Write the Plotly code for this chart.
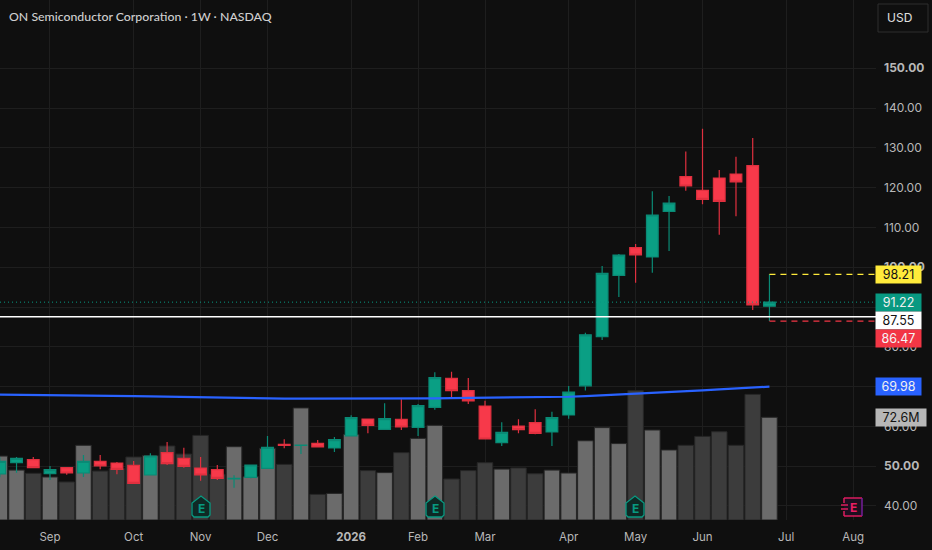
import plotly.graph_objects as go

dates = ['2025-08-11', '2025-08-18', '2025-08-25', '2025-09-01', '2025-09-08', '2025-09-15', '2025-09-22', '2025-09-29',
         '2025-10-06', '2025-10-13', '2025-10-20', '2025-10-27', '2025-11-03', '2025-11-10', '2025-11-17', '2025-11-24',
         '2025-12-01', '2025-12-08', '2025-12-15', '2025-12-22', '2025-12-29', '2026-01-05', '2026-01-12', '2026-01-19',
         '2026-01-26', '2026-02-02', '2026-02-09', '2026-02-16', '2026-02-23', '2026-03-02', '2026-03-09', '2026-03-16',
         '2026-03-23', '2026-03-30', '2026-04-06', '2026-04-13', '2026-04-20', '2026-04-27', '2026-05-04', '2026-05-11',
         '2026-05-18', '2026-05-25', '2026-06-01', '2026-06-08', '2026-06-15', '2026-06-22', '2026-06-29']

opens = [48.04, 50.88, 51.64, 48.12, 49.63, 48.29, 51.22, 50.80, 50.22, 47.79, 53.40, 51.97, 49.55, 49.13, 46.78, 47.20,
         49.46, 55.49, 55.20, 55.74, 54.57, 57.59, 61.86, 59.26, 61.77, 59.76, 64.79, 72.07, 68.98, 65.12, 55.91, 60.10,
         60.93, 58.59, 62.86, 70.20, 82.55, 97.96, 104.91, 102.57, 114.04, 122.75, 119.32, 122.42, 123.42, 125.51, 90.20]
highs = [52.23, 52.31, 52.31, 50.05, 49.70, 52.81, 52.81, 51.05, 51.30, 53.23, 56.08, 54.65, 52.31, 50.30, 47.70, 50.40,
         57.59, 56.75, 55.30, 56.58, 57.33, 62.78, 61.90, 65.79, 66.80, 65.63, 73.58, 73.75, 72.16, 66.46, 61.02, 61.77,
         64.29, 63.70, 70.15, 83.55, 100.30, 103.32, 105.83, 119.07, 117.89, 129.10, 134.81, 124.43, 127.77, 132.47, 98.21]
lows = [47.20, 48.37, 49.63, 46.53, 47.87, 47.28, 49.21, 47.95, 45.69, 47.79, 50.30, 49.63, 46.36, 46.53, 44.60, 46.95,
        49.40, 54.49, 53.06, 54.80, 53.56, 57.50, 58.27, 59.20, 59.09, 57.59, 64.20, 66.97, 65.63, 56.80, 55.07, 58.27,
        58.00, 55.07, 61.94, 69.00, 81.71, 92.52, 96.12, 98.63, 104.07, 119.23, 115.80, 108.18, 112.78, 89.25, 86.47]
closes = [51.22, 51.97, 49.63, 49.13, 48.29, 51.22, 50.05, 49.21, 45.69, 52.56, 50.63, 49.96, 47.79, 46.95, 46.95, 50.30,
          54.74, 55.24, 55.28, 54.82, 56.66, 62.19, 60.27, 61.94, 59.85, 65.21, 72.24, 68.98, 66.38, 56.83, 58.51, 59.18,
          58.27, 62.19, 68.64, 83.00, 98.46, 103.07, 103.07, 113.12, 116.13, 120.40, 117.06, 116.55, 121.41, 90.51, 91.22]
volume_m = [45.2, 35.3, 33.0, 30.4, 26.9, 52.8, 34.6, 36.3, 44.5, 45.5, 52.3, 46.6, 59.8, 32.3, 51.8, 30.6,
            50.7, 39.3, 79.2, 18.1, 18.8, 60.5, 34.9, 33.5, 47.6, 57.7, 66.9, 29.0, 34.9, 40.5, 36.0, 36.8,
            32.7, 35.3, 33.2, 56.0, 65.3, 54.0, 91.4, 63.6, 49.5, 52.8, 59.1, 62.4, 52.8, 88.8, 72.6]
ma_line = [67.97, 67.95, 67.92, 67.89, 67.85, 67.80, 67.74, 67.68, 67.62, 67.54, 67.45, 67.36, 67.27, 67.20, 67.12, 67.06,
           67.00, 66.97, 66.96, 66.95, 66.95, 66.96, 66.97, 66.98, 67.00, 67.03, 67.06, 67.10, 67.14, 67.18, 67.20, 67.22,
           67.24, 67.30, 67.45, 67.62, 67.80, 68.00, 68.20, 68.42, 68.62, 68.85, 69.05, 69.30, 69.55, 69.78, 69.98]

month_ticks = ['2025-09-01', '2025-10-06', '2025-11-03', '2025-12-01', '2026-01-05', '2026-02-02', '2026-03-02',
               '2026-04-06', '2026-05-04', '2026-06-01', '2026-07-06', '2026-08-03']
month_labels = ['Sep', 'Oct', 'Nov', 'Dec', '<b>2026</b>', 'Feb', 'Mar', 'Apr', 'May', 'Jun', 'Jul', 'Aug']
price_ticks = [40, 50, 60, 70, 80, 90, 100, 110, 120, 130, 140, 150]
price_labels = ['40.00', '<b>50.00</b>', '60.00', '70.00', '80.00', '90.00', '<b>100.00</b>', '110.00', '120.00', '130.00', '140.00', '<b>150.00</b>']

last_price = 91.22
white_level = 87.55
high_level = 98.21
low_level = 86.47
axis_start = '2025-08-11 02:00'
axis_end = '2026-08-12 14:00'

BG = '#0f0f0f'
GRID = '#1e1e1e'
TEXT = '#b8b8b8'
GREEN = '#089981'
RED = '#f23645'
PINK = '#e91e63'
FONT = 'Inter'
PLOT_W = 876
PLOT_H = 520

fig = go.Figure()

# volume sits on the primary y axis so the overlaid price axis draws above it
bar_colors = ['#6b6b6b' if c >= o else '#3c3c3c' for o, c in zip(opens, closes)]
fig.add_trace(go.Bar(x=dates, y=volume_m, yaxis='y', marker=dict(color=bar_colors, line=dict(color='#262626', width=1)),
                     showlegend=False))
fig.add_trace(go.Candlestick(x=dates, open=opens, high=highs, low=lows, close=closes, yaxis='y2', whiskerwidth=0,
                             increasing=dict(line=dict(color='#0a8a75', width=1.2), fillcolor='#0a9f84'),
                             decreasing=dict(line=dict(color='#e0303f', width=1.2), fillcolor='#f7394a'),
                             showlegend=False))
fig.add_trace(go.Scatter(x=dates, y=ma_line, yaxis='y2', mode='lines', line=dict(color='#2962ff', width=2.2), showlegend=False))

fig.add_trace(go.Scatter(x=[axis_start, axis_end], y=[last_price, last_price], yaxis='y2', mode='lines',
                         line=dict(color=GREEN, width=1, dash='1px 3px'), showlegend=False))
fig.add_trace(go.Scatter(x=[axis_start, axis_end], y=[white_level, white_level], yaxis='y2', mode='lines',
                         line=dict(color='#ffffff', width=1.6), showlegend=False))
fig.add_trace(go.Scatter(x=[dates[-1], axis_end], y=[high_level, high_level], yaxis='y2', mode='lines',
                         line=dict(color='#ffeb3b', width=1.2, dash='6px 5px'), showlegend=False))
fig.add_trace(go.Scatter(x=[dates[-1], axis_end], y=[low_level, low_level], yaxis='y2', mode='lines',
                         line=dict(color=RED, width=1.2, dash='6px 5px'), showlegend=False))


def px_x(v):
    return v / PLOT_W


def px_y(v):
    return 1 - v / PLOT_H


def poly(pts):
    return 'M ' + ' L '.join(f'{px_x(a):.5f},{px_y(b):.5f}' for a, b in pts) + ' Z'


def seg(x0, y0, x1, y1, color):
    return dict(type='line', xref='paper', yref='paper', x0=px_x(x0), y0=px_y(y0), x1=px_x(x1), y1=px_y(y1),
                line=dict(color=color, width=1.4))


# earnings badges, drawn in pixels
shapes = []
for cx in [201, 435, 635]:
    pts = [(cx - 9, 515), (cx - 9, 503), (cx, 496), (cx + 9, 503), (cx + 9, 515), (cx + 7, 517), (cx - 7, 517)]
    shapes.append(dict(type='path', xref='paper', yref='paper', path=poly(pts), fillcolor='#0f2925',
                       line=dict(color=GREEN, width=1.3)))

# future earnings calendar
shapes.append(dict(type='rect', xref='paper', yref='paper', x0=px_x(844), x1=px_x(862), y0=px_y(498), y1=px_y(516),
                   fillcolor='#1d0f1f', line=dict(width=0)))
shapes += [seg(844, 498, 862, 498, PINK), seg(844, 516, 862, 516, PINK), seg(844, 498, 844, 503, PINK),
           seg(844, 511, 844, 516, PINK), seg(862, 498, 862, 516, '#7b1fa2'), seg(841, 505, 848, 505, PINK),
           seg(841, 509, 848, 509, PINK)]

# USD button
shapes.append(dict(type='rect', xref='paper', yref='paper', x0=px_x(878), x1=px_x(928), y0=px_y(4), y1=px_y(32),
                   fillcolor=BG, line=dict(color='#2e2e2e', width=1)))

annotations = [
    dict(text='ON Semiconductor Corporation · 1W · NASDAQ', xref='paper', yref='paper', x=px_x(6.5), y=px_y(17),
         xanchor='left', yanchor='middle', showarrow=False,
         font=dict(family='Lato', size=12.3, color='#d0d0d0', weight=500)),
    dict(text='USD', xref='paper', yref='paper', x=px_x(899), y=px_y(17.5), xanchor='center', yanchor='middle',
         showarrow=False, font=dict(family=FONT, size=12, color='#e0e0e0')),
]
for cx in [201, 435, 635]:
    annotations.append(dict(text='<b>E</b>', xref='paper', yref='paper', x=px_x(cx), y=px_y(508), xanchor='center',
                            yanchor='middle', showarrow=False, font=dict(family=FONT, size=12, color=GREEN)))
annotations.append(dict(text='<b>E</b>', xref='paper', yref='paper', x=px_x(853), y=px_y(507), xanchor='center',
                        yanchor='middle', showarrow=False, font=dict(family=FONT, size=12, color=PINK)))

axis_labels = [
    (high_level, f'{high_level:.2f}', '#ffeb3b', '#131313', 0),
    (last_price, f'{last_price:.2f}', GREEN, '#f0f0f0', 0),
    (white_level, f'{white_level:.2f}', '#ffffff', '#131313', -4),
    (low_level, f'{low_level:.2f}', RED, '#f5f5f5', -17),
    (ma_line[-1], f'{ma_line[-1]:.2f}', '#2962ff', '#f0f0f0', 0),
]
for level, label, bg, fg, shift in axis_labels:
    annotations.append(dict(text=label, xref='paper', yref='y2', x=px_x(875), y=level, xanchor='left', yanchor='middle',
                            yshift=shift, showarrow=False, width=45, height=17, bgcolor=bg, align='center', borderpad=0,
                            font=dict(family=FONT, size=12.5, color=fg)))
annotations.append(dict(text=f'{volume_m[-1]}M', xref='paper', yref='y', x=px_x(875), y=volume_m[-1], xanchor='left',
                        yanchor='middle', showarrow=False, width=50, height=17, bgcolor='#b7b7b7', align='center',
                        borderpad=0, font=dict(family=FONT, size=12.5, color='#131313')))

fig.update_layout(
    width=932, height=550,
    margin=dict(l=0, r=56, t=0, b=30),
    paper_bgcolor=BG, plot_bgcolor=BG,
    boxgap=0, bargap=0.07,
    showlegend=False,
    font=dict(family=FONT, size=12, color=TEXT),
    xaxis=dict(type='date', range=[axis_start, axis_end], tickmode='array', tickvals=month_ticks, ticktext=month_labels,
               showgrid=True, gridcolor=GRID, gridwidth=1, zeroline=False, showline=False, ticks='', ticklabelstandoff=8,
               rangeslider=dict(visible=False), tickfont=dict(family=FONT, size=11.5, color=TEXT)),
    yaxis=dict(range=[0, 367.5], side='left', visible=False, showgrid=False),
    yaxis2=dict(range=[36.48, 167.14], overlaying='y', side='right', tickmode='array', tickvals=price_ticks,
                ticktext=price_labels, showgrid=True, gridcolor=GRID, gridwidth=1, zeroline=False, showline=False,
                ticks='', ticklabelstandoff=7, tickfont=dict(family=FONT, size=12, color=TEXT)),
    shapes=shapes,
    annotations=annotations,
)

# the page's default body margin would push the chart off the window
fig.write_html("out.html", config=dict(displayModeBar=False),
               post_script="document.body.style.margin='0';document.body.style.background='#0f0f0f';")
